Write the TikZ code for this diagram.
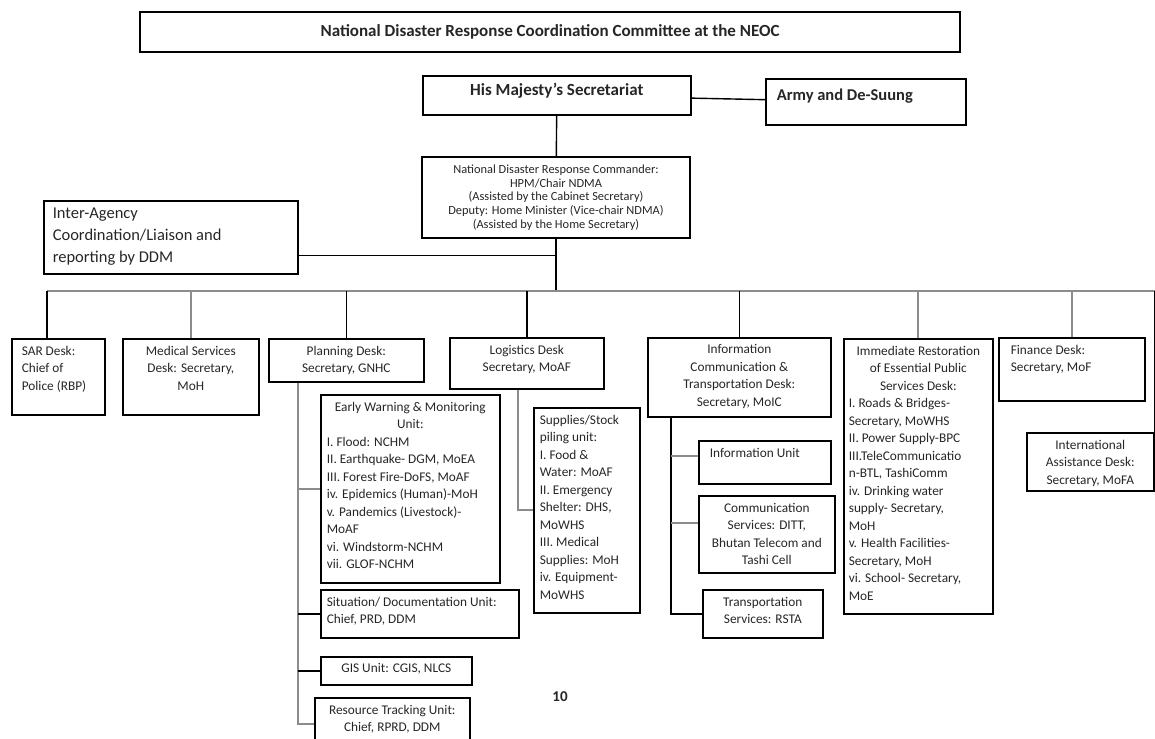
\documentclass[tikz,border=0pt]{standalone}
\usepackage{fontspec}
\setmainfont{Carlito}
\usepackage{tikz}
\usetikzlibrary{positioning}
\definecolor{mgray}{rgb}{0.55, 0.55, 0.55}
\definecolor{mtext}{rgb}{0.15, 0.15, 0.15}
\newcommand{\lcell}[3]{\parbox[t][#2][t]{#1}{\raggedright #3}}
\newcommand{\ccell}[3]{\parbox[t][#2][t]{#1}{\centering #3}}
\tikzset{box/.style = {draw, line width = 1.6, anchor = north west, inner xsep = 6, inner ysep = 7, text = mtext, font = \fontsize{13.3}{17.5}\selectfont}}
\tikzset{conn/.style = {line width = 1.4}}
\tikzset{gconn/.style = {mgray, line width = 1.8}}

\begin{document}
\begin{tikzpicture}[x = 1pt, y = -1pt]
      \useasboundingbox (0, 0) rectangle (1155, 738);

      % top of the chart
      \node [draw, line width = 1.6, minimum width = 820, minimum height = 40, text = mtext, font = \fontsize{17}{20}\selectfont\bfseries] (neoc) at (550, 32) {National Disaster Response Coordination Committee at the NEOC};
      \node [box, font = \fontsize{17}{20}\selectfont\bfseries] (hms) at (422, 75) {\ccell{256pt}{25pt}{His Majesty's Secretariat}};
      \node [box, inner xsep = 11, inner ysep = 10, font = \fontsize{16.5}{20}\selectfont\bfseries] (army) at (765, 78) {\lcell{178pt}{26pt}{Army and De-Suung}};
      \node [draw, line width = 1.6, minimum width = 268, minimum height = 81, align = center, text = mtext, font = \fontsize{12.4}{13.6}\selectfont] (ndrc) at (556, 197.5) {National Disaster Response Commander:\\HPM/Chair NDMA\\(Assisted by the Cabinet Secretary)\\Deputy: Home Minister (Vice-chair NDMA)\\(Assisted by the Home Secretary)};
      \node [box, inner xsep = 9, font = \fontsize{16.5}{22}\selectfont] (inter) at (43, 200) {\lcell{236pt}{59pt}{Inter-Agency\\Coordination/Liaison and\\reporting by DDM}};

      % desks
      \node [box, inner xsep = 10] (sar) at (11, 338) {\lcell{73pt}{62pt}{SAR Desk:\\Chief of\\Police (RBP)}};
      \node [box] (med) at (122, 338) {\ccell{124pt}{62pt}{Medical Services\\Desk: Secretary,\\MoH}};
      \node [box] (plan) at (268, 338) {\ccell{143pt}{29pt}{Planning Desk:\\Secretary, GNHC}};
      \node [box] (log) at (449, 337) {\ccell{142pt}{37pt}{Logistics Desk\\Secretary, MoAF}};
      \node [box] (ict) at (647, 337) {\ccell{171pt}{65pt}{Information\\Communication \&\\Transportation Desk:\\Secretary, MoIC}};
      \node [box, inner xsep = 5] (imm) at (843, 338) {\lcell{139pt}{261pt}{{\centering Immediate Restoration\\of Essential Public\\Services Desk:\par}I. Roads \& Bridges-\\Secretary, MoWHS\\II. Power Supply-BPC\\III.TeleCommunicatio\\n-BTL, TashiComm\\iv. Drinking water\\supply- Secretary,\\MoH\\v. Health Facilities-\\Secretary, MoH\\vi. School- Secretary,\\MoE}};
      \node [box, inner xsep = 12] (fin) at (998, 337) {\lcell{122pt}{49pt}{Finance Desk:\\Secretary, MoF}};
      \node [box] (intl) at (1026, 432) {\ccell{115pt}{44pt}{International\\Assistance Desk:\\Secretary, MoFA}};

      % units
      \node [box] (ews) at (320, 394) {\lcell{167pt}{174pt}{{\centering Early Warning \& Monitoring\\Unit:\par}I. Flood: NCHM\\II. Earthquake- DGM, MoEA\\III. Forest Fire-DoFS, MoAF\\iv. Epidemics (Human)-MoH\\v. Pandemics (Livestock)-\\MoAF\\vi. Windstorm-NCHM\\vii. GLOF-NCHM}};
      \node [box] (sit) at (320, 589) {\lcell{186pt}{34pt}{Situation/ Documentation Unit:\\Chief, PRD, DDM}};
      \node [box] (gis) at (320, 656) {\ccell{139pt}{14pt}{GIS Unit: CGIS, NLCS}};
      \node [box] (rtu) at (314, 697) {\ccell{143pt}{39pt}{Resource Tracking Unit:\\Chief, RPRD, DDM}};
      \node [box] (sup) at (533, 407) {\lcell{94pt}{191pt}{Supplies/Stock\\piling unit:\\I. Food \&\\Water: MoAF\\II. Emergency\\Shelter: DHS,\\MoWHS\\III. Medical\\Supplies: MoH\\iv. Equipment-\\MoWHS}};
      \node [box] (info) at (698, 440) {\lcell{120pt}{29pt}{\hspace{5pt}Information Unit}};
      \node [box] (comm) at (698, 495) {\ccell{124pt}{63pt}{Communication\\Services: DITT,\\Bhutan Telecom and\\Tashi Cell}};
      \node [box] (trans) at (702, 589) {\ccell{108pt}{34pt}{Transportation\\Services: RSTA}};

      \node [text = mtext, font = \fontsize{15}{17}\selectfont\bfseries] (page) at (560, 697) {10};

      % connectors
      \coordinate (bus) at (0, 291);
      \draw [conn] (hms) -- (army);
      \draw [conn] (hms) -- (ndrc);
      \draw [conn] (ndrc) -- (ndrc.south |- bus);
      \draw [conn] ([yshift = -18]inter.east) coordinate (liaison) -- (liaison -| ndrc.south);
      \draw [gconn] ([xshift = -11.5]sar.north |- bus) -- (intl.north east |- bus);
      \draw [conn] ([xshift = -11.5]sar.north |- bus) -- ([xshift = -11.5]sar.north);
      \draw [gconn] (med.north |- bus) -- (med.north);
      \foreach \d in {plan, log, ict}
        \draw [conn] (\d.north |- bus) -- (\d.north);
      \foreach \d in {imm, fin}
        \draw [gconn] (\d.north |- bus) -- (\d.north);
      \draw [conn] (intl.north east |- bus) -- (intl.north east);

      \draw [gconn] ([xshift = -48.5]plan.south) coordinate (ptrunk) |- (rtu.west);
      \draw [gconn] (ptrunk |- ews.west) -- (ews.west);
      \foreach \u in {sit, gis}
        \draw [conn] (ptrunk |- \u.west) -- (\u.west);
      \draw [gconn] ([xshift = -9]log.south) |- (sup.west);
      \draw [conn] ([xshift = -68.5]ict.south) coordinate (itrunk) |- (trans.west);
      \draw [gconn] ([yshift = 6.5]info.west) coordinate (ib) -- (ib -| itrunk);
      \draw [gconn] ([yshift = 11.5]comm.west) coordinate (cb) -- (cb -| itrunk);
    \end{tikzpicture}
\end{document}
